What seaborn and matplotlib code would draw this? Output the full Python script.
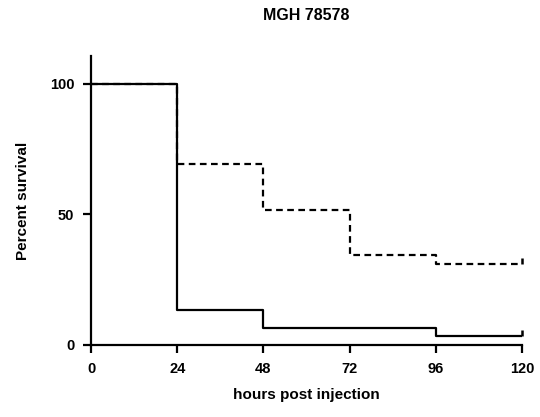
import matplotlib
matplotlib.use('Agg')

import pandas as pd
import seaborn as sns
import matplotlib.pyplot as plt

# survival curves (Kaplan-Meier style, steps)
hours = [0, 24, 48, 72, 96, 120]
solid_survival = [100, 13.3, 6.7, 6.7, 3.3, 3.3]
dashed_survival = [100, 69.2, 51.9, 34.6, 31.2, 31.2]
groups = ['solid', 'dashed']

x_ticks = [0, 24, 48, 72, 96, 120]
y_ticks = [0, 50, 100]

sns.set_theme(style='ticks')
plt.rcParams['font.family'] = ['Liberation Sans', 'DejaVu Sans']
plt.rcParams['font.weight'] = 'bold'
plt.rcParams['text.color'] = 'black'
plt.rcParams['axes.labelcolor'] = 'black'

df = pd.concat([
    pd.DataFrame({'hours': hours, 'survival': solid_survival, 'group': groups[0]}),
    pd.DataFrame({'hours': hours, 'survival': dashed_survival, 'group': groups[1]}),
])

fig = plt.figure(figsize=(5.4, 4.17), dpi=100)
ax = fig.add_axes([91 / 540, 72 / 417, 431 / 540, 289 / 417])

sns.lineplot(data=df, x='hours', y='survival', style='group', color='black',
             dashes={'solid': '', 'dashed': (3, 2)}, drawstyle='steps-post',
             estimator=None, linewidth=1.6, legend=False, ax=ax)

# censor ticks at the end of each curve
ends = df[df['hours'] == hours[-1]]
sns.scatterplot(data=ends, x='hours', y='survival', marker=2, s=16,
                color='black', linewidth=1.8, legend=False, ax=ax, clip_on=False)

ax.set_xlim(0, 120)
ax.set_ylim(0, 110.7)
ax.set_xticks(x_ticks)
ax.set_yticks(y_ticks)
ax.tick_params(axis='both', length=6, width=1.6, labelsize=10.5, colors='black', pad=6)
for lab in ax.get_xticklabels() + ax.get_yticklabels():
    lab.set_fontweight('bold')
for side in ['top', 'right']:
    ax.spines[side].set_visible(False)
for side in ['left', 'bottom']:
    ax.spines[side].set_linewidth(1.6)
    ax.spines[side].set_color('black')

ax.set_xlabel('hours post injection', fontsize=11, fontweight='bold', labelpad=9)
ax.set_ylabel('Percent survival', fontsize=11, fontweight='bold', labelpad=14)
fig.text(306.5 / 540, 1 - 16 / 417, 'MGH 78578', ha='center', va='center',
         fontsize=11.5, fontweight='bold')

fig.savefig('out.png', dpi=100)
